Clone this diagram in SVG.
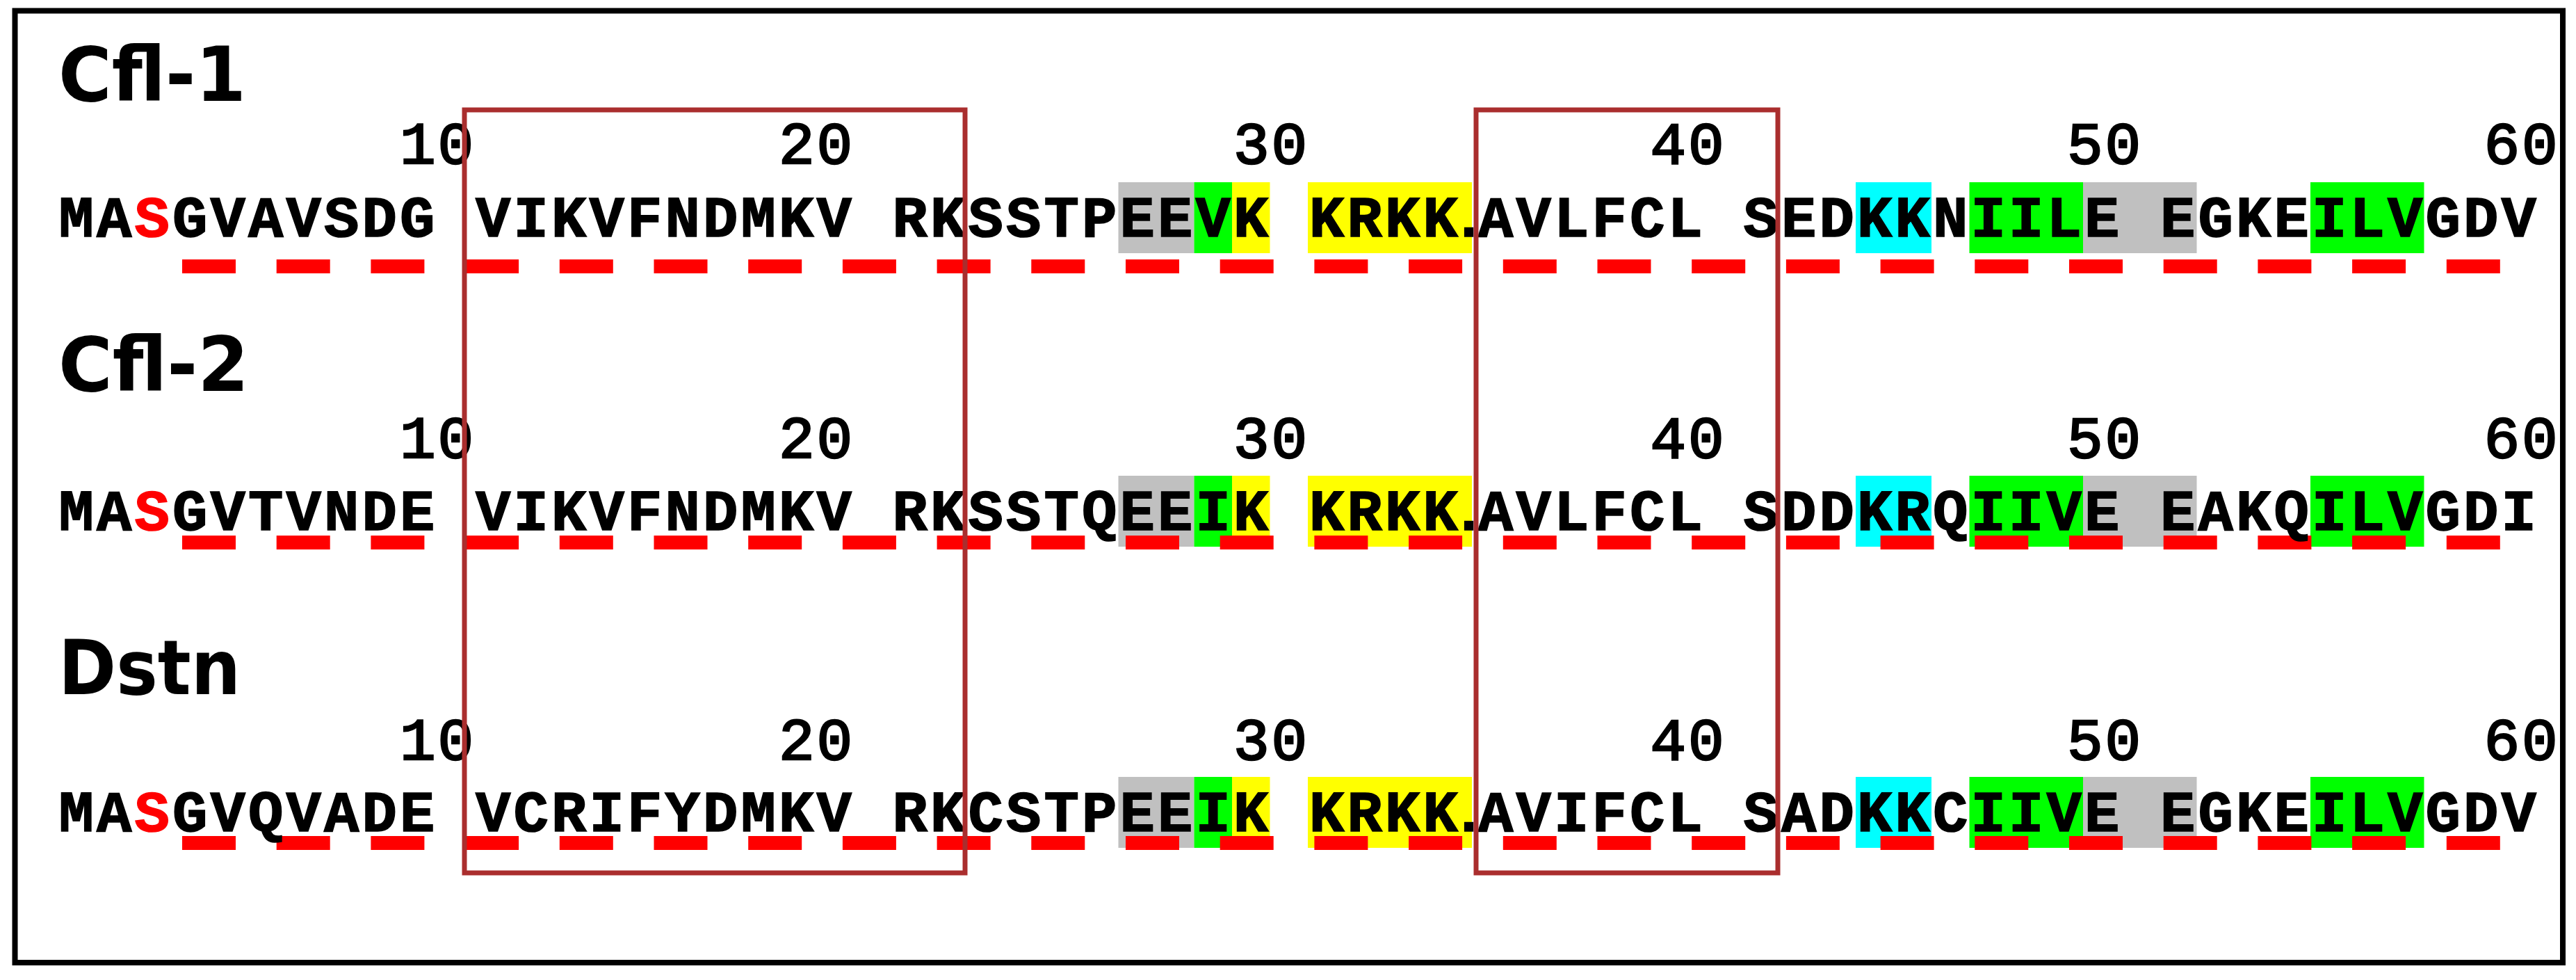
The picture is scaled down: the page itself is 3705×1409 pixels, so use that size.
<svg xmlns="http://www.w3.org/2000/svg" width="3705" height="1409" viewBox="0 0 3705 1409">
<style>
.seq{font-family:"Liberation Mono","Courier New",monospace;font-weight:bold;font-size:84px;letter-spacing:4.1px;fill:#000;stroke:#000;stroke-width:1.6px}
.num{font-family:"Liberation Mono","Courier New",monospace;font-weight:normal;font-size:86px;letter-spacing:2.9px;fill:#000;stroke:#000;stroke-width:2.6px}
.lbl{font-family:"DejaVu Sans","Liberation Sans",sans-serif;font-weight:bold;font-size:108px;fill:#000}
.red{fill:#ff0000;stroke:#ff0000}
.dot{font-family:"Liberation Sans",Arial,sans-serif;letter-spacing:0}
.dash{stroke:#ff0000;stroke-width:20;stroke-dasharray:77 58.7;fill:none}
.box{fill:none;stroke:#aa2e2e;stroke-width:7}
.gray{fill:#c0c0c0}.green{fill:#00ff00}.yellow{fill:#ffff00}.cyan{fill:#00ffff}
</style>
<defs>
<g id="hl">
<rect class="gray" x="1608.5" y="0" width="109" height="102"/>
<rect class="green" x="1717.5" y="0" width="54.5" height="102"/>
<rect class="yellow" x="1772" y="0" width="54.5" height="102"/>
<rect class="yellow" x="1881" y="0" width="236" height="102"/>
<rect class="cyan" x="2669" y="0" width="109" height="102"/>
<rect class="green" x="2832.5" y="0" width="163.5" height="102"/>
<rect class="gray" x="2996" y="0" width="163.5" height="102"/>
<rect class="green" x="3323" y="0" width="163.5" height="102"/>
</g>
<g id="nums">
<text class="num" x="575" y="0">10</text>
<text class="num" x="1120" y="0">20</text>
<text class="num" x="1774" y="0">30</text>
<text class="num" x="2373.5" y="0">40</text>
<text class="num" x="2973" y="0">50</text>
<text class="num" x="3572.5" y="0">60</text>
</g>
</defs>
<rect width="3705" height="1409" fill="#fff"/>
<rect id="frame" x="21.5" y="15.5" width="3664.5" height="1368.5" fill="none" stroke="#000" stroke-width="8"/>

<g id="cfl1">
<text class="lbl" x="84" y="145" textLength="270" lengthAdjust="spacingAndGlyphs">Cfl-1</text>
<use href="#nums" y="235"/>
<use href="#hl" y="262"/>
<line class="dash" x1="262" y1="383" x2="3596" y2="383"/>
<text class="seq" y="340"><tspan x="84.5">MA</tspan><tspan class="red">S</tspan><tspan>GVAVSDG</tspan><tspan x="684">VIKVFNDMKV</tspan><tspan x="1283.5">RKSSTPEEVK</tspan><tspan x="1883">KRKK</tspan><tspan class="dot">.</tspan><tspan x="2126">AVLFCL</tspan><tspan x="2507.5">SEDKKNIILE</tspan><tspan x="3107">EGKEILVGDV</tspan></text>
</g>

<g id="cfl2">
<text class="lbl" x="84" y="562" textLength="274" lengthAdjust="spacingAndGlyphs">Cfl-2</text>
<use href="#nums" y="658"/>
<use href="#hl" y="684"/>
<line class="dash" x1="262" y1="780" x2="3596" y2="780"/>
<text class="seq" y="762"><tspan x="84.5">MA</tspan><tspan class="red">S</tspan><tspan>GVTVNDE</tspan><tspan x="684">VIKVFNDMKV</tspan><tspan x="1283.5">RKSSTQEEIK</tspan><tspan x="1883">KRKK</tspan><tspan class="dot">.</tspan><tspan x="2126">AVLFCL</tspan><tspan x="2507.5">SDDKRQIIVE</tspan><tspan x="3107">EAKQILVGDI</tspan></text>
</g>

<g id="dstn">
<text class="lbl" x="84" y="998" textLength="262" lengthAdjust="spacingAndGlyphs">Dstn</text>
<use href="#nums" y="1092"/>
<use href="#hl" y="1117"/>
<line class="dash" x1="262" y1="1212" x2="3596" y2="1212"/>
<text class="seq" y="1195"><tspan x="84.5">MA</tspan><tspan class="red">S</tspan><tspan>GVQVADE</tspan><tspan x="684">VCRIFYDMKV</tspan><tspan x="1283.5">RKCSTPEEIK</tspan><tspan x="1883">KRKK</tspan><tspan class="dot">.</tspan><tspan x="2126">AVIFCL</tspan><tspan x="2507.5">SADKKCIIVE</tspan><tspan x="3107">EGKEILVGDV</tspan></text>
</g>

<g id="region-boxes">
<rect id="box1" class="box" x="668" y="158" width="720" height="1097"/>
<rect id="box2" class="box" x="2123" y="158" width="434" height="1097"/>
</g>
</svg>
